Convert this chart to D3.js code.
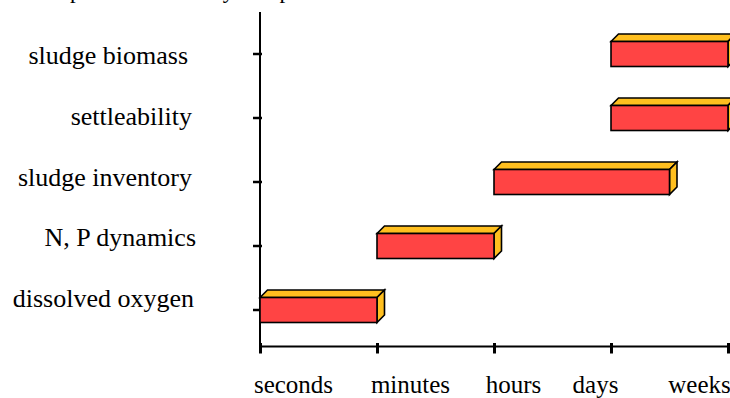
<!DOCTYPE html>
<html>
<head>
<meta charset="utf-8">
<script src="https://cdn.jsdelivr.net/npm/d3@7/dist/d3.min.js"></script>
<style>
  html, body { margin: 0; padding: 0; background: #fff; overflow: hidden; }
  svg { display: block; }
  text { font-family: "Liberation Serif", "Times New Roman", "DejaVu Serif", serif; fill: #000; }
</style>
</head>
<body>
<svg id="chart" width="730" height="398"></svg>
<script>
// Processes, bottom to top, and the time scale each one responds on
const processes = ["dissolved oxygen", "N, P dynamics", "sludge inventory", "settleability", "sludge biomass"];
const spanStart = [0, 1, 2, 3, 3];
const spanEnd   = [1, 2, 3.5, 4, 4];
const timeLabels = ["seconds", "minutes", "hours", "days", "weeks"];
const chartTitle = "Response time of key components";

const svg = d3.select("#chart");

const x = d3.scaleLinear().domain([0, 4]).range([260, 728]);
const y = d3.scaleBand().domain(processes.slice().reverse()).range([22, 342]);

const faceH = 25;   // height of the front face of each bar
const depth = 7.5;  // 3-D offset of the top and side faces

// title (runs off the top edge)
svg.append("text")
  .attr("x", 35.5).attr("y", -2.5)
  .attr("font-size", 23)
  .text(chartTitle);

// y axis line and ticks
svg.append("line")
  .attr("x1", 260).attr("x2", 260)
  .attr("y1", 12).attr("y2", 348)
  .attr("stroke", "#000").attr("stroke-width", 2);

svg.append("g").selectAll("line")
  .data(processes)
  .join("line")
  .attr("x1", 253).attr("x2", 262)
  .attr("y1", d => y(d) + y.bandwidth() / 2)
  .attr("y2", d => y(d) + y.bandwidth() / 2)
  .attr("stroke", "#000").attr("stroke-width", 2.5);

// category labels
const labelBaseline = d3.scaleLinear().domain([0, 4]).range([307, 64]);
const labelRight = [194, 196, 192, 192, 188];
svg.append("g").selectAll("text")
  .data(processes)
  .join("text")
  .attr("x", (d, i) => labelRight[i])
  .attr("y", (d, i) => labelBaseline(i))
  .attr("text-anchor", "end")
  .attr("font-size", 26)
  .text(d => d);

// x axis
const xAxis = d3.axisBottom(x)
  .tickValues(d3.range(timeLabels.length))
  .tickFormat(i => timeLabels[i])
  .tickSizeInner(7)
  .tickSizeOuter(0)
  .tickPadding(32);

const gx = svg.append("g")
  .attr("transform", "translate(0,346.5)")
  .call(xAxis);
gx.select(".domain").attr("stroke", "#000").attr("stroke-width", 2)
  .attr("d", "M260,0H730");
gx.selectAll(".tick line").attr("stroke", "#000").attr("stroke-width", 3)
  .attr("y1", -3.5).attr("y2", 7);
const labelShift = [33, 33, 19, -16, -29];
gx.selectAll(".tick text")
  .attr("font-family", "Liberation Serif, Times New Roman, serif")
  .attr("font-size", 25)
  .attr("fill", "#000")
  .attr("dy", null)
  .attr("y", 46)
  .attr("dx", (d, i) => labelShift[i]);

// 3-D bars
const bars = svg.append("g")
  .attr("stroke", "#000").attr("stroke-width", 1.6).attr("stroke-linejoin", "miter");

processes.forEach((p, i) => {
  const x0 = x(spanStart[i]), x1 = x(spanEnd[i]);
  const yc = y(p) + y.bandwidth() / 2;
  const yt = yc - faceH / 2, yb = yc + faceH / 2;
  const g = bars.append("g");
  g.append("path")
    .attr("fill", "#ffbf1f")
    .attr("d", `M${x0},${yt}L${x0 + depth},${yt - depth}L${x1 + depth},${yt - depth}L${x1},${yt}Z`);
  g.append("path")
    .attr("fill", "#ffbf1f")
    .attr("d", `M${x1},${yt}L${x1 + depth},${yt - depth}L${x1 + depth},${yb - depth}L${x1},${yb}Z`);
  g.append("rect")
    .attr("fill", "#ff4444")
    .attr("x", x0).attr("y", yt)
    .attr("width", x1 - x0).attr("height", faceH);
});
</script>
</body>
</html>
